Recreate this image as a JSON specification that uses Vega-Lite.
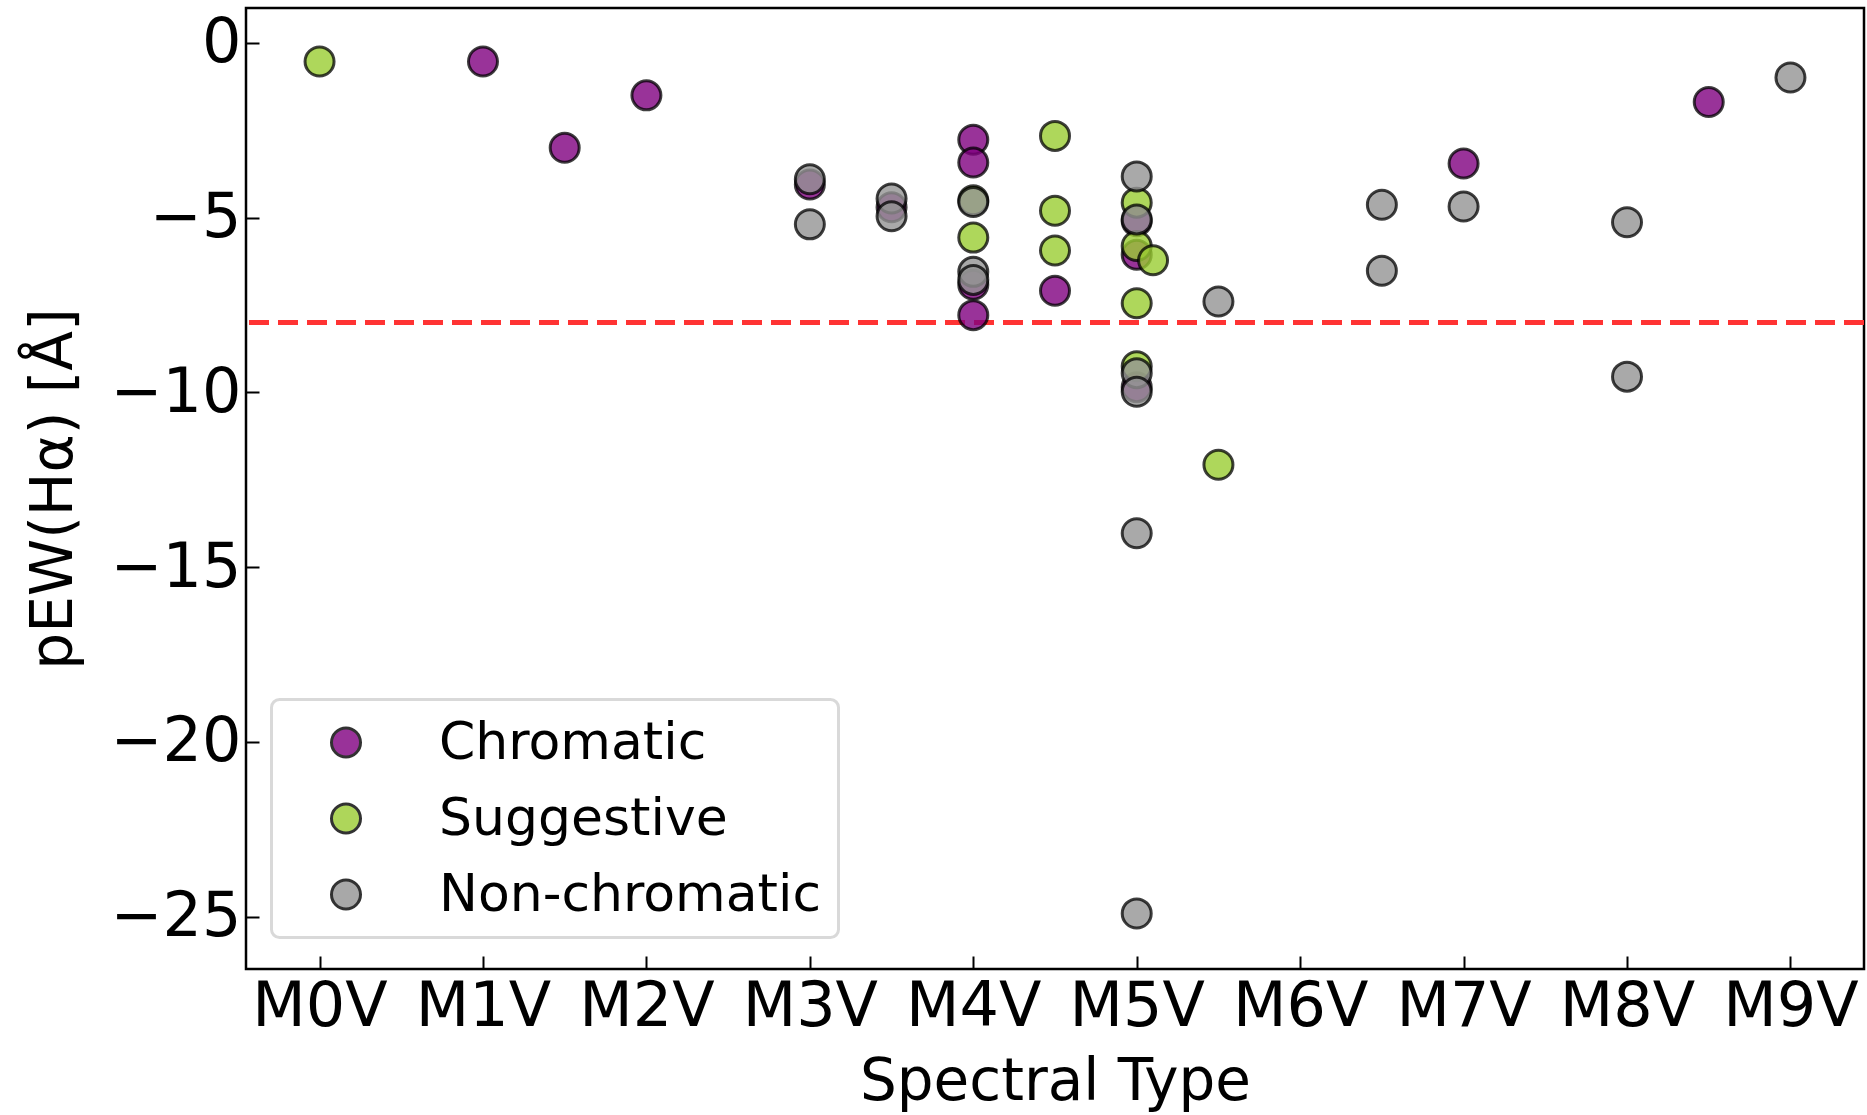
{
  "$schema": "https://vega.github.io/schema/vega-lite/v6.json",
  "width": 1618,
  "height": 961,
  "autosize": {"type": "none"},
  "padding": {"left": 246, "top": 8, "right": 3, "bottom": 146},
  "config": {
    "view": {"stroke": "black", "strokeWidth": 2.5},
    "font": "DejaVu Sans",
    "axis": {
      "grid": false,
      "domain": false,
      "ticks": true,
      "tickColor": "black",
      "tickWidth": 2,
      "tickSize": -13,
      "labelFont": "DejaVu Sans",
      "labelFontSize": 62,
      "labelColor": "black",
      "titleFont": "DejaVu Sans",
      "titleFontSize": 58,
      "titleFontWeight": "normal",
      "titleColor": "black"
    }
  },
  "layer": [
    {
      "data": {"values": [{"thr": -8}]},
      "mark": {"type": "rule", "color": "#ff3333", "strokeWidth": 5, "strokeDash": [20, 9]},
      "encoding": {
        "y": {"field": "thr", "type": "quantitative", "scale": {"domain": [-26.5, 1.0], "nice": false, "zero": false}}
      }
    },
    {
      "data": {
        "values": [
          {"sp": 1, "pew": -0.53, "cat": "Chromatic"},
          {"sp": 1.5, "pew": -3.0, "cat": "Chromatic"},
          {"sp": 2, "pew": -1.5, "cat": "Chromatic"},
          {"sp": 3, "pew": -4.05, "cat": "Chromatic"},
          {"sp": 3.5, "pew": -4.7, "cat": "Chromatic"},
          {"sp": 4, "pew": -2.77, "cat": "Chromatic"},
          {"sp": 4, "pew": -3.42, "cat": "Chromatic"},
          {"sp": 4, "pew": -6.92, "cat": "Chromatic"},
          {"sp": 4, "pew": -7.79, "cat": "Chromatic"},
          {"sp": 4.5, "pew": -7.09, "cat": "Chromatic"},
          {"sp": 5, "pew": -5.1, "cat": "Chromatic"},
          {"sp": 5, "pew": -6.06, "cat": "Chromatic"},
          {"sp": 5, "pew": -9.85, "cat": "Chromatic"},
          {"sp": 7, "pew": -3.45, "cat": "Chromatic"},
          {"sp": 8.5, "pew": -1.69, "cat": "Chromatic"},
          {"sp": 0, "pew": -0.53, "cat": "Suggestive"},
          {"sp": 4, "pew": -4.5, "cat": "Suggestive"},
          {"sp": 4, "pew": -5.57, "cat": "Suggestive"},
          {"sp": 4.5, "pew": -2.66, "cat": "Suggestive"},
          {"sp": 4.5, "pew": -4.8, "cat": "Suggestive"},
          {"sp": 4.5, "pew": -5.94, "cat": "Suggestive"},
          {"sp": 5, "pew": -4.57, "cat": "Suggestive"},
          {"sp": 5, "pew": -5.81, "cat": "Suggestive"},
          {"sp": 5.1, "pew": -6.22, "cat": "Suggestive"},
          {"sp": 5, "pew": -7.45, "cat": "Suggestive"},
          {"sp": 5, "pew": -9.25, "cat": "Suggestive"},
          {"sp": 5.5, "pew": -12.07, "cat": "Suggestive"},
          {"sp": 3, "pew": -3.9, "cat": "Non-chromatic"},
          {"sp": 3, "pew": -5.19, "cat": "Non-chromatic"},
          {"sp": 3.5, "pew": -4.45, "cat": "Non-chromatic"},
          {"sp": 3.5, "pew": -4.96, "cat": "Non-chromatic"},
          {"sp": 4, "pew": -4.55, "cat": "Non-chromatic"},
          {"sp": 4, "pew": -6.55, "cat": "Non-chromatic"},
          {"sp": 4, "pew": -6.78, "cat": "Non-chromatic"},
          {"sp": 5, "pew": -3.82, "cat": "Non-chromatic"},
          {"sp": 5, "pew": -5.05, "cat": "Non-chromatic"},
          {"sp": 5, "pew": -9.45, "cat": "Non-chromatic"},
          {"sp": 5, "pew": -9.98, "cat": "Non-chromatic"},
          {"sp": 5, "pew": -14.03, "cat": "Non-chromatic"},
          {"sp": 5, "pew": -24.91, "cat": "Non-chromatic"},
          {"sp": 5.5, "pew": -7.4, "cat": "Non-chromatic"},
          {"sp": 6.5, "pew": -4.63, "cat": "Non-chromatic"},
          {"sp": 6.5, "pew": -6.52, "cat": "Non-chromatic"},
          {"sp": 7, "pew": -4.68, "cat": "Non-chromatic"},
          {"sp": 8, "pew": -5.13, "cat": "Non-chromatic"},
          {"sp": 8, "pew": -9.55, "cat": "Non-chromatic"},
          {"sp": 9, "pew": -0.99, "cat": "Non-chromatic"}
        ]
      },
      "mark": {
        "type": "point",
        "shape": "circle",
        "filled": true,
        "size": 841,
        "fillOpacity": 0.8,
        "stroke": "black",
        "strokeOpacity": 0.75,
        "strokeWidth": 3
      },
      "encoding": {
        "x": {
          "field": "sp",
          "type": "quantitative",
          "scale": {"domain": [-0.45, 9.45], "nice": false, "zero": false},
          "axis": {
            "title": "Spectral Type",
            "values": [0, 1, 2, 3, 4, 5, 6, 7, 8, 9],
            "labelExpr": "'M' + datum.value + 'V'",
            "labelPadding": 20,
            "titleY": 130,
            "titleBaseline": "alphabetic"
          }
        },
        "y": {
          "field": "pew",
          "type": "quantitative",
          "scale": {"domain": [-26.5, 1.0], "nice": false, "zero": false},
          "axis": {
            "title": "pEW(Hα) [Å]",
            "values": [-25, -20, -15, -10, -5, 0],
            "labelPadding": 18,
            "titleX": -175,
            "titleBaseline": "alphabetic"
          }
        },
        "color": {
          "field": "cat",
          "type": "nominal",
          "scale": {
            "domain": ["Chromatic", "Suggestive", "Non-chromatic"],
            "range": ["#800080", "#9acd32", "#939393"]
          },
          "legend": {
            "title": null,
            "orient": "none",
            "legendX": 25.5,
            "legendY": 691.5,
            "padding": 17,
            "symbolOffset": 31.5,
            "labelOffset": 67,
            "rowPadding": 24,
            "labelFont": "DejaVu Sans",
            "labelFontSize": 52,
            "labelColor": "black",
            "labelLimit": 0,
            "symbolType": "circle",
            "symbolSize": 841,
            "symbolStrokeColor": "black",
            "symbolStrokeWidth": 3,
            "symbolOpacity": 0.8,
            "strokeColor": "#d9d9d9",
            "fillColor": "white",
            "cornerRadius": 8,
            "encode": {"legend": {"update": {"strokeWidth": {"value": 3}}}}
          }
        }
      }
    }
  ]
}
